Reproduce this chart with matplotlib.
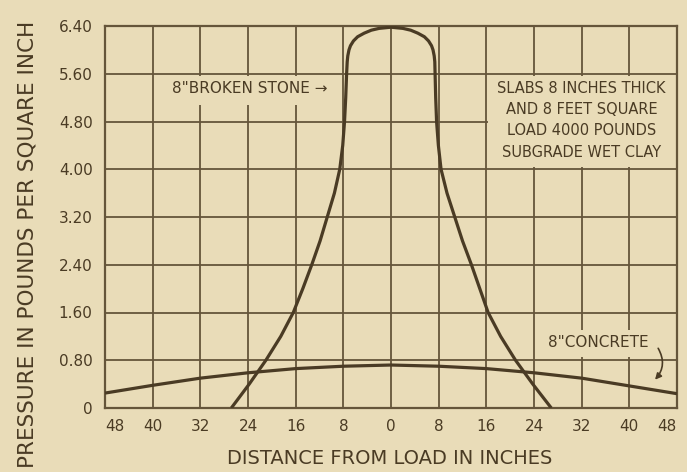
import matplotlib
matplotlib.use("Agg")
import matplotlib.pyplot as plt
from matplotlib.patches import Rectangle

# ---- data ----
x_ticks = [-48, -40, -32, -24, -16, -8, 0, 8, 16, 24, 32, 40, 48]
x_tick_labels = ["48", "40", "32", "24", "16", "8", "0", "8", "16", "24", "32", "40", "48"]
y_ticks = [0, 0.8, 1.6, 2.4, 3.2, 4.0, 4.8, 5.6, 6.4]
y_tick_labels = ["0", "0.80", "1.60", "2.40", "3.20", "4.00", "4.80", "5.60", "6.40"]

concrete_x = [-48, -40, -32, -24, -16, -8, 0, 8, 16, 24, 32, 40, 48]
concrete_y = [0.25, 0.38, 0.50, 0.59, 0.66, 0.70, 0.72, 0.70, 0.66, 0.59, 0.50, 0.37, 0.24]

stone_left_x = [-26.8, -23.8, -21.0, -18.5, -16.4, -14.8, -13.3, -11.9, -10.7, -9.5, -8.6,
                -8.1, -7.8, -7.6, -7.45, -7.35, -7.25, -7.05, -6.8, -6.3, -5.6, -4.5, -3.3, -2.0]
stone_left_y = [0.0, 0.4, 0.8, 1.2, 1.6, 2.0, 2.4, 2.8, 3.2, 3.6, 4.0,
                4.4, 4.8, 5.2, 5.6, 5.8, 5.9, 6.0, 6.07, 6.15, 6.22, 6.28, 6.33, 6.36]
stone_peak_x = [0.0]
stone_peak_y = [6.38]
stone_right_x = [2.0, 3.3, 4.5, 5.6, 6.3, 6.8, 7.05, 7.25, 7.35, 7.4, 7.5, 7.65, 7.95, 8.4,
                 9.4, 10.7, 12.0, 13.5, 14.9, 16.3, 18.4, 20.9, 23.8, 26.9]
stone_right_y = [6.36, 6.33, 6.28, 6.22, 6.15, 6.07, 6.0, 5.9, 5.8, 5.6, 5.2, 4.8, 4.4, 4.0,
                 3.6, 3.2, 2.8, 2.4, 2.0, 1.6, 1.2, 0.8, 0.4, 0.0]

notes = ["SLABS 8 INCHES THICK", "AND 8 FEET SQUARE", "LOAD 4000 POUNDS", "SUBGRADE WET CLAY"]

stone_x = stone_left_x + stone_peak_x + stone_right_x
stone_y = stone_left_y + stone_peak_y + stone_right_y

# ---- style ----
bg = "#e9dcb8"
ink = "#4a3b24"
grid_c = "#65553a"
font = "DejaVu Sans"

fig = plt.figure(figsize=(6.87, 4.72), dpi=100, facecolor=bg)
ax = fig.add_axes([105/687, 1-408/472, (677-105)/687, (408-26)/472])
ax.set_facecolor(bg)

ax.set_xlim(-48, 48)
ax.set_ylim(0, 6.4)
ax.set_xticks(x_ticks)
ax.set_xticklabels(x_tick_labels, fontsize=11, color=ink, family=font)
ax.set_yticks(y_ticks)
ax.set_yticklabels(y_tick_labels, fontsize=11, color=ink, family=font)
ax.tick_params(axis="x", length=0, pad=8)
ax.tick_params(axis="y", length=0, pad=9)
xl = ax.get_xticklabels()
xl[0].set_ha("left")
xl[-1].set_ha("right")

ax.set_axisbelow(True)
ax.grid(True, color=grid_c, linewidth=1.3)
for s in ax.spines.values():
    s.set_color(grid_c)
    s.set_linewidth(1.6)

# label boxes that hide grid
ax.add_patch(Rectangle((16.3, 4.04), 31.5, 1.52, facecolor=bg, edgecolor="none", zorder=1))
ax.add_patch(Rectangle((-39.8, 5.07), 31.6, 0.49, facecolor=bg, edgecolor="none", zorder=1))
ax.add_patch(Rectangle((25.9, 0.86), 18.8, 0.45, facecolor=bg, edgecolor="none", zorder=1))

ax.plot(concrete_x, concrete_y, color=ink, linewidth=2.3, zorder=3, solid_capstyle="butt")
ax.plot(stone_x, stone_y, color=ink, linewidth=2.3, zorder=3, solid_capstyle="butt",
        solid_joinstyle="round")

ax.text(-23.7, 5.36, "8\"BROKEN STONE \u2192", fontsize=11, color=ink, family=font,
        ha="center", va="center", zorder=4)
for i, line in enumerate(notes):
    ax.text(32.0, 5.36 - i * 0.357, line, fontsize=10.5, color=ink, family=font,
            ha="center", va="center", zorder=4)
ax.text(34.8, 1.09, "8\"CONCRETE", fontsize=11, color=ink, family=font,
        ha="center", va="center", zorder=4)
ax.annotate("", xy=(44.0, 0.44), xytext=(44.6, 1.04),
            arrowprops=dict(arrowstyle="-|>", color=ink, lw=1.2,
                            connectionstyle="arc3,rad=-0.4", mutation_scale=9),
            zorder=4)

fig.text(28/687, 1-244/472, "PRESSURE IN POUNDS PER SQUARE INCH", rotation=90,
         fontsize=15.5, color=ink, family=font, ha="center", va="center")
fig.text(390/687, 1-458/472, "DISTANCE FROM LOAD IN INCHES",
         fontsize=14, color=ink, family=font, ha="center", va="center")

fig.savefig("out.png", dpi=100, facecolor=bg)
